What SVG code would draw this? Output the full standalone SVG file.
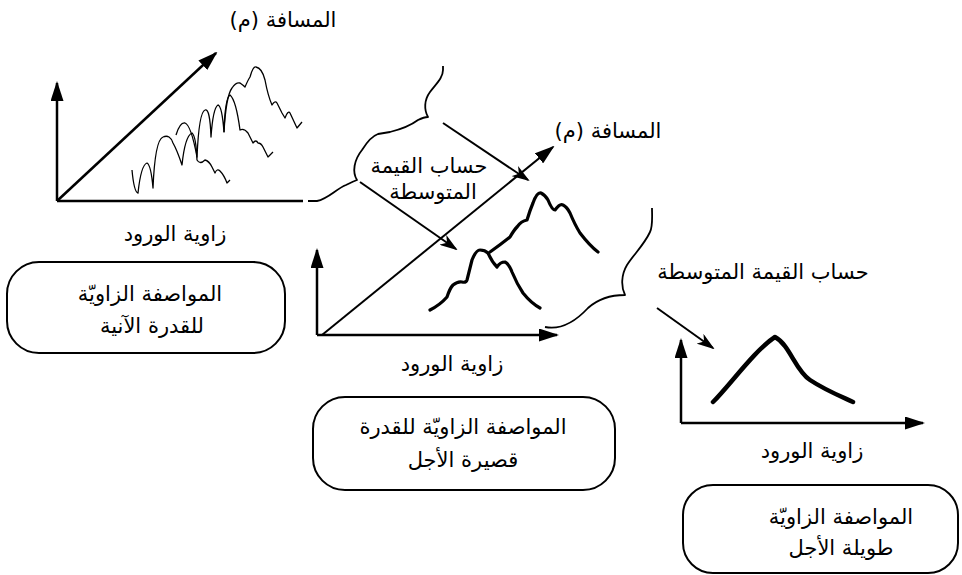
<svg xmlns="http://www.w3.org/2000/svg" width="962" height="575" viewBox="0 0 962 575">
<style>
text{font-family:"DejaVu Sans",sans-serif;font-size:21px;fill:#000;direction:rtl;text-anchor:middle}
.ax{stroke:#000;stroke-width:2.5;fill:none}
.ln{stroke:#000;stroke-width:2;fill:none}
.c1{stroke:#000;stroke-width:1.3;fill:none;stroke-linejoin:round}
.c2{stroke:#000;stroke-width:3.2;fill:none;stroke-linecap:round;stroke-linejoin:round}
.c3{stroke:#000;stroke-width:4.5;fill:none;stroke-linecap:round;stroke-linejoin:round}
.br{stroke:#000;stroke-width:1.8;fill:none;stroke-linejoin:round}
.box{stroke:#000;stroke-width:2;fill:#fff}
</style>
<defs>
<marker id="ah" markerUnits="userSpaceOnUse" markerWidth="20" markerHeight="13" refX="18" refY="6.5" orient="auto"><path d="M0,0 L20,6.5 L0,13 z" fill="#000"/></marker>
<marker id="sh" markerUnits="userSpaceOnUse" markerWidth="18" markerHeight="12" refX="16" refY="6" orient="auto"><path d="M0,0 L18,6 L0,12 L5,6 z" fill="#000"/></marker>
</defs>

<g id="graph-instant">
<line class="ax" x1="57" y1="201" x2="57" y2="83" marker-end="url(#ah)"/>
<line class="ax" x1="57" y1="201" x2="303" y2="201"/>
<line class="ax" x1="57" y1="201" x2="216" y2="53" marker-end="url(#ah)"/>
<path class="c1" d="M132,170 Q134,192 138,193 Q141,165 147,163 Q151,165 153,188 Q155,140 163,137 Q170,134 173,143 Q177,150 182,165 Q185,136 192,133 Q196,136 197,160 Q200,165 205,160 Q209,161 212,167 L215,173 Q217,168 220,171 Q224,175 227,183 L230,180"/>
<path class="c1" d="M176,135 Q180,122 185,123 Q191,125 197,157 Q199,112 205,110 Q210,108 211,137 Q213,108 218,105 Q222,106 224,132 Q225,98 230,95 Q236,100 240,130 Q244,128 248,133 L253,143 Q256,139 258,143 Q261,143 263,147 L268,157 L273,152"/>
<path class="c1" d="M224,132 Q226,96 232,88 Q236,82 240,83 Q243,85 245,87 Q248,80 250,77 Q253,66 256,67 Q262,68 265,80 Q268,96 272,105 Q275,100 277,103 L282,113 L285,118 Q288,110 290,113 L297,128 L302,122"/>
<text x="283" y="27">المسافة (م)</text>
<text x="175" y="241">زاوية الورود</text>
</g>

<g id="box-instant">
<rect class="box" x="7" y="262" width="278" height="91" rx="32" ry="32"/>
<text x="150" y="301">المواصفة الزاويّة</text>
<text x="152" y="333">للقدرة الآنية</text>
</g>

<g id="avg1">
<path class="br" d="M308,201 L317,201 C328,199 336,189 346,185 C350,183 354,181 357,180 C352,172 354,160 362,150 C367,142 372,136 378,134 L390,132 C402,129 410,126 418,120 C422,118 425,117 428,117 C424,110 424,100 430,92 C436,84 443,78 443,70 L443,66"/>
<text x="429" y="173">حساب القيمة</text>
<text x="433" y="199">المتوسطة</text>
</g>

<g id="graph-short">
<line class="ax" x1="317" y1="335" x2="317" y2="250" marker-end="url(#ah)"/>
<line class="ax" x1="317" y1="335" x2="557" y2="335" marker-end="url(#ah)"/>
<line class="ln" x1="322" y1="335" x2="553" y2="147" marker-end="url(#ah)"/>
<path class="c2" d="M490,252 Q500,245 510,237 Q514,230 517,227 Q521,221 527,220 Q530,210 533,203 Q537,192 541,193 Q545,195 548,200 Q552,210 555,210 Q560,203 563,205 Q567,207 570,213 Q575,225 580,233 Q590,246 598,252"/>
<path class="c2" d="M430,310 Q440,305 447,297 Q450,288 453,285 Q458,281 462,282 Q466,283 467,280 Q470,268 472,260 Q476,250 480,250 Q485,250 488,253 Q492,262 497,267 Q500,262 505,262 Q509,264 512,272 Q517,284 523,293 Q531,303 540,308"/>
<text x="608" y="138">المسافة (م)</text>
<text x="452" y="371">زاوية الورود</text>
</g>

<g id="box-short">
<rect class="box" x="313" y="397" width="302" height="93" rx="32" ry="32"/>
<text x="463" y="434">المواصفة الزاويّة للقدرة</text>
<text x="463" y="467">قصيرة الأجل</text>
</g>

<g id="avg2">
<path class="br" d="M545,327 C560,330 575,322 588,308 C598,299 610,295 625,295 C621,287 621,275 627,265 C634,254 644,245 650,232 C653,226 652,216 652,208"/>
<text x="763" y="279">حساب القيمة المتوسطة</text>
</g>

<g id="graph-long">
<line class="ax" x1="681" y1="423" x2="681" y2="340" marker-end="url(#ah)"/>
<line class="ax" x1="681" y1="423" x2="923" y2="423" marker-end="url(#ah)"/>
<path class="c3" d="M713,402 C730,385 755,350 775,337 C790,345 795,370 810,380 C825,390 840,396 853,402"/>
<text x="812" y="458">زاوية الورود</text>
</g>

<g id="box-long">
<rect class="box" x="683" y="485" width="275" height="88" rx="30" ry="30"/>
<text x="841" y="524">المواصفة الزاويّة</text>
<text x="841" y="555">طويلة الأجل</text>
</g>

<g id="connectors">
<line class="ln" x1="360" y1="182" x2="456" y2="249" marker-end="url(#sh)"/>
<line class="ln" x1="443" y1="123" x2="528" y2="180" marker-end="url(#sh)"/>
<line class="ln" x1="657" y1="308" x2="713" y2="348" marker-end="url(#sh)"/>
</g>
</svg>
